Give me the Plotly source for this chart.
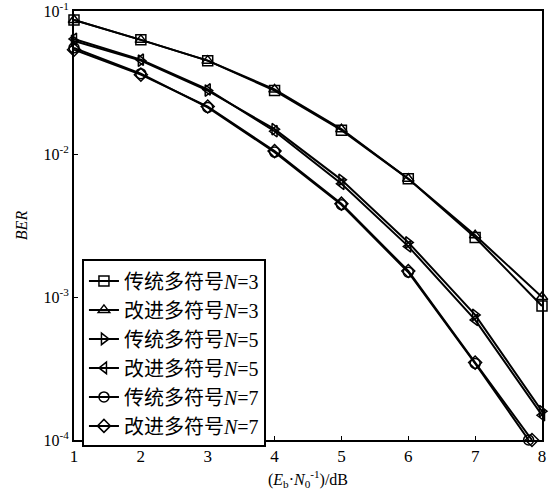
import plotly.graph_objects as go

snr = [1, 2, 3, 4, 5, 6, 7, 8]
snr_n7_trad = [1, 2, 3, 4, 5, 6, 7, 7.8]
snr_n7_imp = [1, 2, 3, 4, 5, 6, 7, 7.85]

ber_trad_n3 = [0.0866, 0.0629, 0.0450, 0.0278, 0.01468, 0.00671, 0.00261, 0.000866]
ber_imp_n3 = [0.0866, 0.0629, 0.0450, 0.0283, 0.01492, 0.00671, 0.00270, 0.00100]
ber_trad_n5 = [0.0619, 0.0450, 0.0278, 0.01492, 0.00660, 0.00241, 0.000750, 0.000159]
ber_imp_n5 = [0.0639, 0.0457, 0.0283, 0.01444, 0.00619, 0.00226, 0.000692, 0.000149]
ber_trad_n7 = [0.0553, 0.0365, 0.0212, 0.01032, 0.00442, 0.00149, 0.000343, 0.0001]
ber_imp_n7 = [0.0536, 0.0359, 0.0215, 0.01049, 0.00450, 0.00152, 0.000348, 0.0001]

names = ["传统多符号<i>N</i>=3", "改进多符号<i>N</i>=3", "传统多符号<i>N</i>=5",
         "改进多符号<i>N</i>=5", "传统多符号<i>N</i>=7", "改进多符号<i>N</i>=7"]
symbols = ["square-open", "triangle-up-open", "triangle-right-open",
           "triangle-left-open", "circle-open", "diamond-open"]
xs = [snr, snr, snr, snr, snr_n7_trad, snr_n7_imp]
ys = [ber_trad_n3, ber_imp_n3, ber_trad_n5, ber_imp_n5, ber_trad_n7, ber_imp_n7]

y_tick_vals = [1e-4, 1e-3, 1e-2, 1e-1]
y_tick_text = ["10<sup>-4</sup>", "10<sup>-3</sup>", "10<sup>-2</sup>", "10<sup>-1</sup>"]

FONT = "Liberation Serif, Times New Roman, Noto Sans CJK SC, serif"

fig = go.Figure()
for x, y, n, s in zip(xs, ys, names, symbols):
    fig.add_trace(go.Scatter(
        x=x, y=y, name=n, mode="lines+markers",
        line=dict(color="black", width=2),
        marker=dict(symbol=s, size=10, color="black", line=dict(color="black", width=1.5)),
        cliponaxis=False,
    ))

fig.update_layout(
    width=549, height=493,
    margin=dict(l=74, r=7, t=11, b=53),
    paper_bgcolor="white", plot_bgcolor="white",
    font=dict(family=FONT, color="black", size=15),
    showlegend=True,
    legend=dict(
        x=0.017, y=0.421, xanchor="left", yanchor="top",
        bordercolor="black", borderwidth=2, bgcolor="white",
        font=dict(family=FONT, size=20, color="black"),
        tracegroupgap=0,
    ),
    xaxis=dict(
        range=[1, 8], tickvals=snr[:], ticktext=[str(v) for v in snr],
        automargin=False,
        showline=True, linecolor="black", linewidth=2, mirror=True,
        ticks="inside", ticklen=4, tickcolor="black", showgrid=False, zeroline=False,
        tickfont=dict(size=17),
        title=dict(text="(<i>E</i><sub>b</sub>·<i>N</i><sub>0</sub><sup>-1</sup>)/dB",
                   font=dict(size=16), standoff=8),
    ),
    yaxis=dict(
        type="log", range=[-4, -0.9995],
        tickmode="array", tickvals=y_tick_vals, ticktext=y_tick_text,
        ticklabeloverflow="allow", automargin=False,
        showline=True, linecolor="black", linewidth=2, mirror=True,
        ticks="inside", ticklen=4, tickcolor="black", showgrid=False, zeroline=False,
        tickfont=dict(size=16),
        title=dict(text="<i>BER</i>", font=dict(size=16), standoff=12),
    ),
)

fig.write_html("out.html")
